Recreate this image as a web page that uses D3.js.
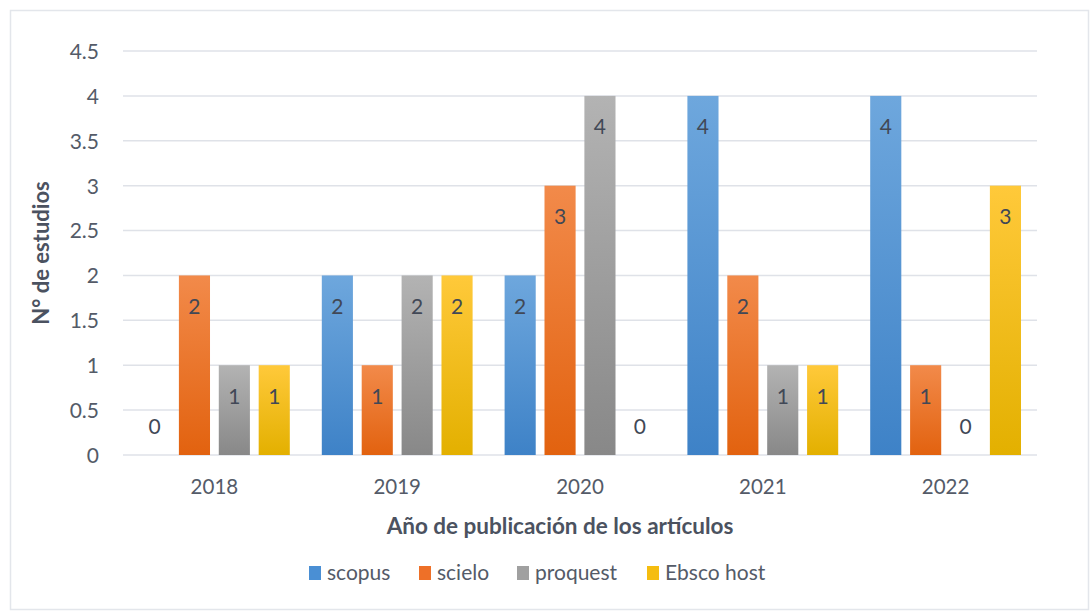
<!DOCTYPE html>
<html>
<head>
<meta charset="utf-8">
<script src="https://cdn.jsdelivr.net/npm/d3@7"></script>
<style>
  html, body { margin: 0; padding: 0; background: #fff; }
  svg { display: block; }
  text { font-family: Lato, "Open Sans", "Liberation Sans", sans-serif; }
</style>
</head>
<body>
<svg id="chart" width="1091" height="614"></svg>
<script>
const years = ["2018", "2019", "2020", "2021", "2022"];
const seriesNames = ["scopus", "scielo", "proquest", "Ebsco host"];
const scopus   = [0, 2, 2, 4, 4];
const scielo   = [2, 1, 3, 2, 1];
const proquest = [1, 2, 4, 1, 0];
const ebsco    = [1, 2, 0, 1, 3];
const yTicks = [0, 0.5, 1, 1.5, 2, 2.5, 3, 3.5, 4, 4.5];
const yTitle = "N° de estudios";
const xTitle = "Año de publicación de los artículos";

const seriesValues = [scopus, scielo, proquest, ebsco];
const colors = [
  { top: "#6ea7dd", bottom: "#3e82c7", legend: "#4a8fd4" },
  { top: "#f28a4a", bottom: "#e2620f", legend: "#ee7028" },
  { top: "#b3b3b3", bottom: "#888888", legend: "#a0a0a0" },
  { top: "#ffc93a", bottom: "#e3b000", legend: "#f5bd10" }
];

const svg = d3.select("#chart");
const plot = { left: 123, right: 1037, top: 51, bottom: 455 };

// border
svg.append("rect").attr("x", 10.5).attr("y", 10.5).attr("width", 1078).attr("height", 599)
  .attr("fill", "#fff").attr("stroke", "#e3e6eb").attr("stroke-width", 1.5);

const defs = svg.append("defs");
colors.forEach((c, i) => {
  const g = defs.append("linearGradient").attr("id", "grad" + i)
    .attr("x1", 0).attr("y1", 0).attr("x2", 0).attr("y2", 1);
  g.append("stop").attr("offset", "0%").attr("stop-color", c.top);
  g.append("stop").attr("offset", "100%").attr("stop-color", c.bottom);
});

const y = d3.scaleLinear().domain([0, 4.5]).range([plot.bottom, plot.top]);
const x0 = d3.scaleBand().domain(years).range([plot.left, plot.right]).padding(0);
const bw = x0.bandwidth();
const x1 = d3.scaleBand().domain(seriesNames).range([16, bw - 16]).paddingInner(0.22).paddingOuter(0);

// gridlines
svg.append("g").selectAll("line").data(yTicks).join("line")
  .attr("x1", plot.left).attr("x2", plot.right)
  .attr("y1", d => y(d)).attr("y2", d => y(d))
  .attr("stroke", "#dfe2e8").attr("stroke-width", 1.5);

// y axis labels
const yAxis = d3.axisLeft(y).tickValues(yTicks).tickSize(0).tickPadding(0)
  .tickFormat(d => String(d));
const yg = svg.append("g").attr("transform", `translate(${plot.left - 24},0)`).call(yAxis);
yg.select(".domain").remove();
yg.selectAll("text").attr("font-size", 21).attr("fill", "#545b68").attr("dy", "0.35em")
  .attr("font-family", "Lato, sans-serif");

// x axis labels
const xAxis = d3.axisBottom(x0).tickSize(0).tickPadding(0);
const xg = svg.append("g").attr("transform", `translate(0,${plot.bottom + 32})`).call(xAxis);
xg.select(".domain").remove();
xg.selectAll("text").attr("font-size", 20.5).attr("fill", "#545b68").attr("dy", "0.35em")
  .attr("font-family", "Lato, sans-serif");

// bars
const data = [];
years.forEach((yr, i) => {
  seriesNames.forEach((s, j) => {
    data.push({ year: yr, series: s, si: j, value: seriesValues[j][i] });
  });
});

const bars = svg.append("g");
bars.selectAll("rect").data(data.filter(d => d.value > 0)).join("rect")
  .attr("x", d => x0(d.year) + x1(d.series))
  .attr("y", d => y(d.value))
  .attr("width", x1.bandwidth())
  .attr("height", d => y(0) - y(d.value))
  .attr("fill", d => `url(#grad${d.si})`);

bars.selectAll("text").data(data).join("text")
  .attr("x", d => x0(d.year) + x1(d.series) + x1.bandwidth() / 2)
  .attr("y", d => d.value > 0 ? y(d.value) + 31 : y(0) - 28)
  .attr("dy", "0.35em")
  .attr("text-anchor", "middle")
  .attr("font-size", 21)
  .attr("fill", "#414856")
  .text(d => d.value);

// axis titles
svg.append("text")
  .attr("transform", `translate(41,${(plot.top + plot.bottom) / 2}) rotate(-90)`)
  .attr("text-anchor", "middle").attr("dy", "0.35em")
  .attr("font-size", 22).attr("font-weight", "bold").attr("fill", "#4b5260")
  .text(yTitle);

svg.append("text")
  .attr("x", 560).attr("y", 526)
  .attr("text-anchor", "middle").attr("dy", "0.35em")
  .attr("font-size", 22.5).attr("font-weight", "bold").attr("fill", "#4b5260")
  .text(xTitle);

// legend
const legendX = [309, 419, 517, 647];
const lg = svg.append("g");
seriesNames.forEach((s, i) => {
  const g = lg.append("g").attr("transform", `translate(${legendX[i]},573)`);
  g.append("rect").attr("x", 0).attr("y", -7).attr("width", 12).attr("height", 14)
    .attr("fill", colors[i].legend);
  g.append("text").attr("x", 18).attr("y", 0).attr("dy", "0.35em")
    .attr("font-size", 21).attr("fill", "#545b68").text(s);
});
</script>
</body>
</html>
